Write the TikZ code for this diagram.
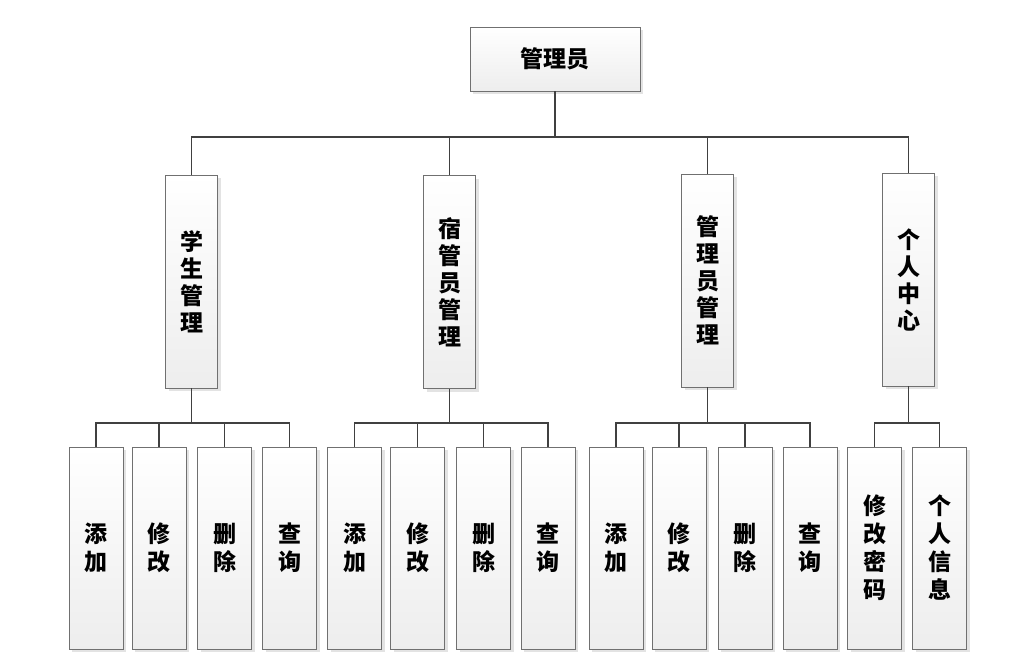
\documentclass[tikz,border=0pt]{standalone}
\usepackage{fontspec}
\newfontfamily\cjk{Noto Sans CJK SC}
\usetikzlibrary{shadows}
\definecolor{linec}{HTML}{404040}
\definecolor{boxc}{HTML}{707070}
\tikzset{
  box/.style={draw=boxc, line width=0.9pt, top color=white, bottom color=black!7,
    drop shadow={shadow xshift=3pt, shadow yshift=-3pt, fill=black!18, opacity=0.6},
    inner sep=0pt, align=center, font=\cjk\bfseries\fontsize{23}{27}\selectfont},
  topbox/.style={box, minimum width=170pt, minimum height=64pt, font=\cjk\bfseries\fontsize{23}{27}\selectfont},
  midbox/.style={box, minimum width=52pt, minimum height=213pt},
  leafbox/.style={box, minimum width=54pt, minimum height=202pt, font=\cjk\bfseries\fontsize{23}{28}\selectfont},
  conn/.style={draw=linec, line width=1.5pt}
}
\begin{document}
\begin{tikzpicture}[x=1pt,y=-1pt]
\useasboundingbox (0,0) rectangle (1010,662);
\node[topbox] (top) at (555,59) {管理员};
\node[midbox] (s1) at (191.5,281.5) {学\\生\\管\\理};
\node[midbox] (s2) at (449.5,282) {宿\\管\\员\\管\\理};
\node[midbox] (s3) at (707.5,280.5) {管\\理\\员\\管\\理};
\node[midbox] (s4) at (908.5,279.5) {个\\人\\中\\心};
% group 1
\node[leafbox] (a1) at (96,548) {添\\加};
\node[leafbox] (a2) at (159,548) {修\\改};
\node[leafbox] (a3) at (224.5,548) {删\\除};
\node[leafbox] (a4) at (289.5,548) {查\\询};
% group 2
\node[leafbox] (b1) at (354.5,548) {添\\加};
\node[leafbox] (b2) at (417.5,548) {修\\改};
\node[leafbox] (b3) at (483.5,548) {删\\除};
\node[leafbox] (b4) at (548,548) {查\\询};
% group 3
\node[leafbox] (c1) at (616,548) {添\\加};
\node[leafbox] (c2) at (679,548) {修\\改};
\node[leafbox] (c3) at (745,548) {删\\除};
\node[leafbox] (c4) at (810,548) {查\\询};
% group 4
\node[leafbox] (d1) at (874.5,548) {修\\改\\密\\码};
\node[leafbox] (d2) at (939.5,548) {个\\人\\信\\息};
% bus coordinates
\coordinate (bus0) at (0,137);
\coordinate (bus1) at (0,423);
% top level
\draw[conn] (top.south) -- (top.south |- bus0);
\draw[conn] (s1.north) |- (bus0 -| s4.north) -- (s4.north);
\draw[conn] (s2.north) -- (s2.north |- bus0);
\draw[conn] (s3.north) -- (s3.north |- bus0);
% group buses
\foreach \p/\f/\l/\m in {s1/a1/a4/{a2,a3}, s2/b1/b4/{b2,b3}, s3/c1/c4/{c2,c3}, s4/d1/d2/{}}{
  \draw[conn] (\p.south) -- (\p.south |- bus1);
  \draw[conn] (\f.north) |- (bus1 -| \l.north) -- (\l.north);
  \foreach \q in \m { \draw[conn] (\q.north) -- (\q.north |- bus1); }
}
\end{tikzpicture}
\end{document}
